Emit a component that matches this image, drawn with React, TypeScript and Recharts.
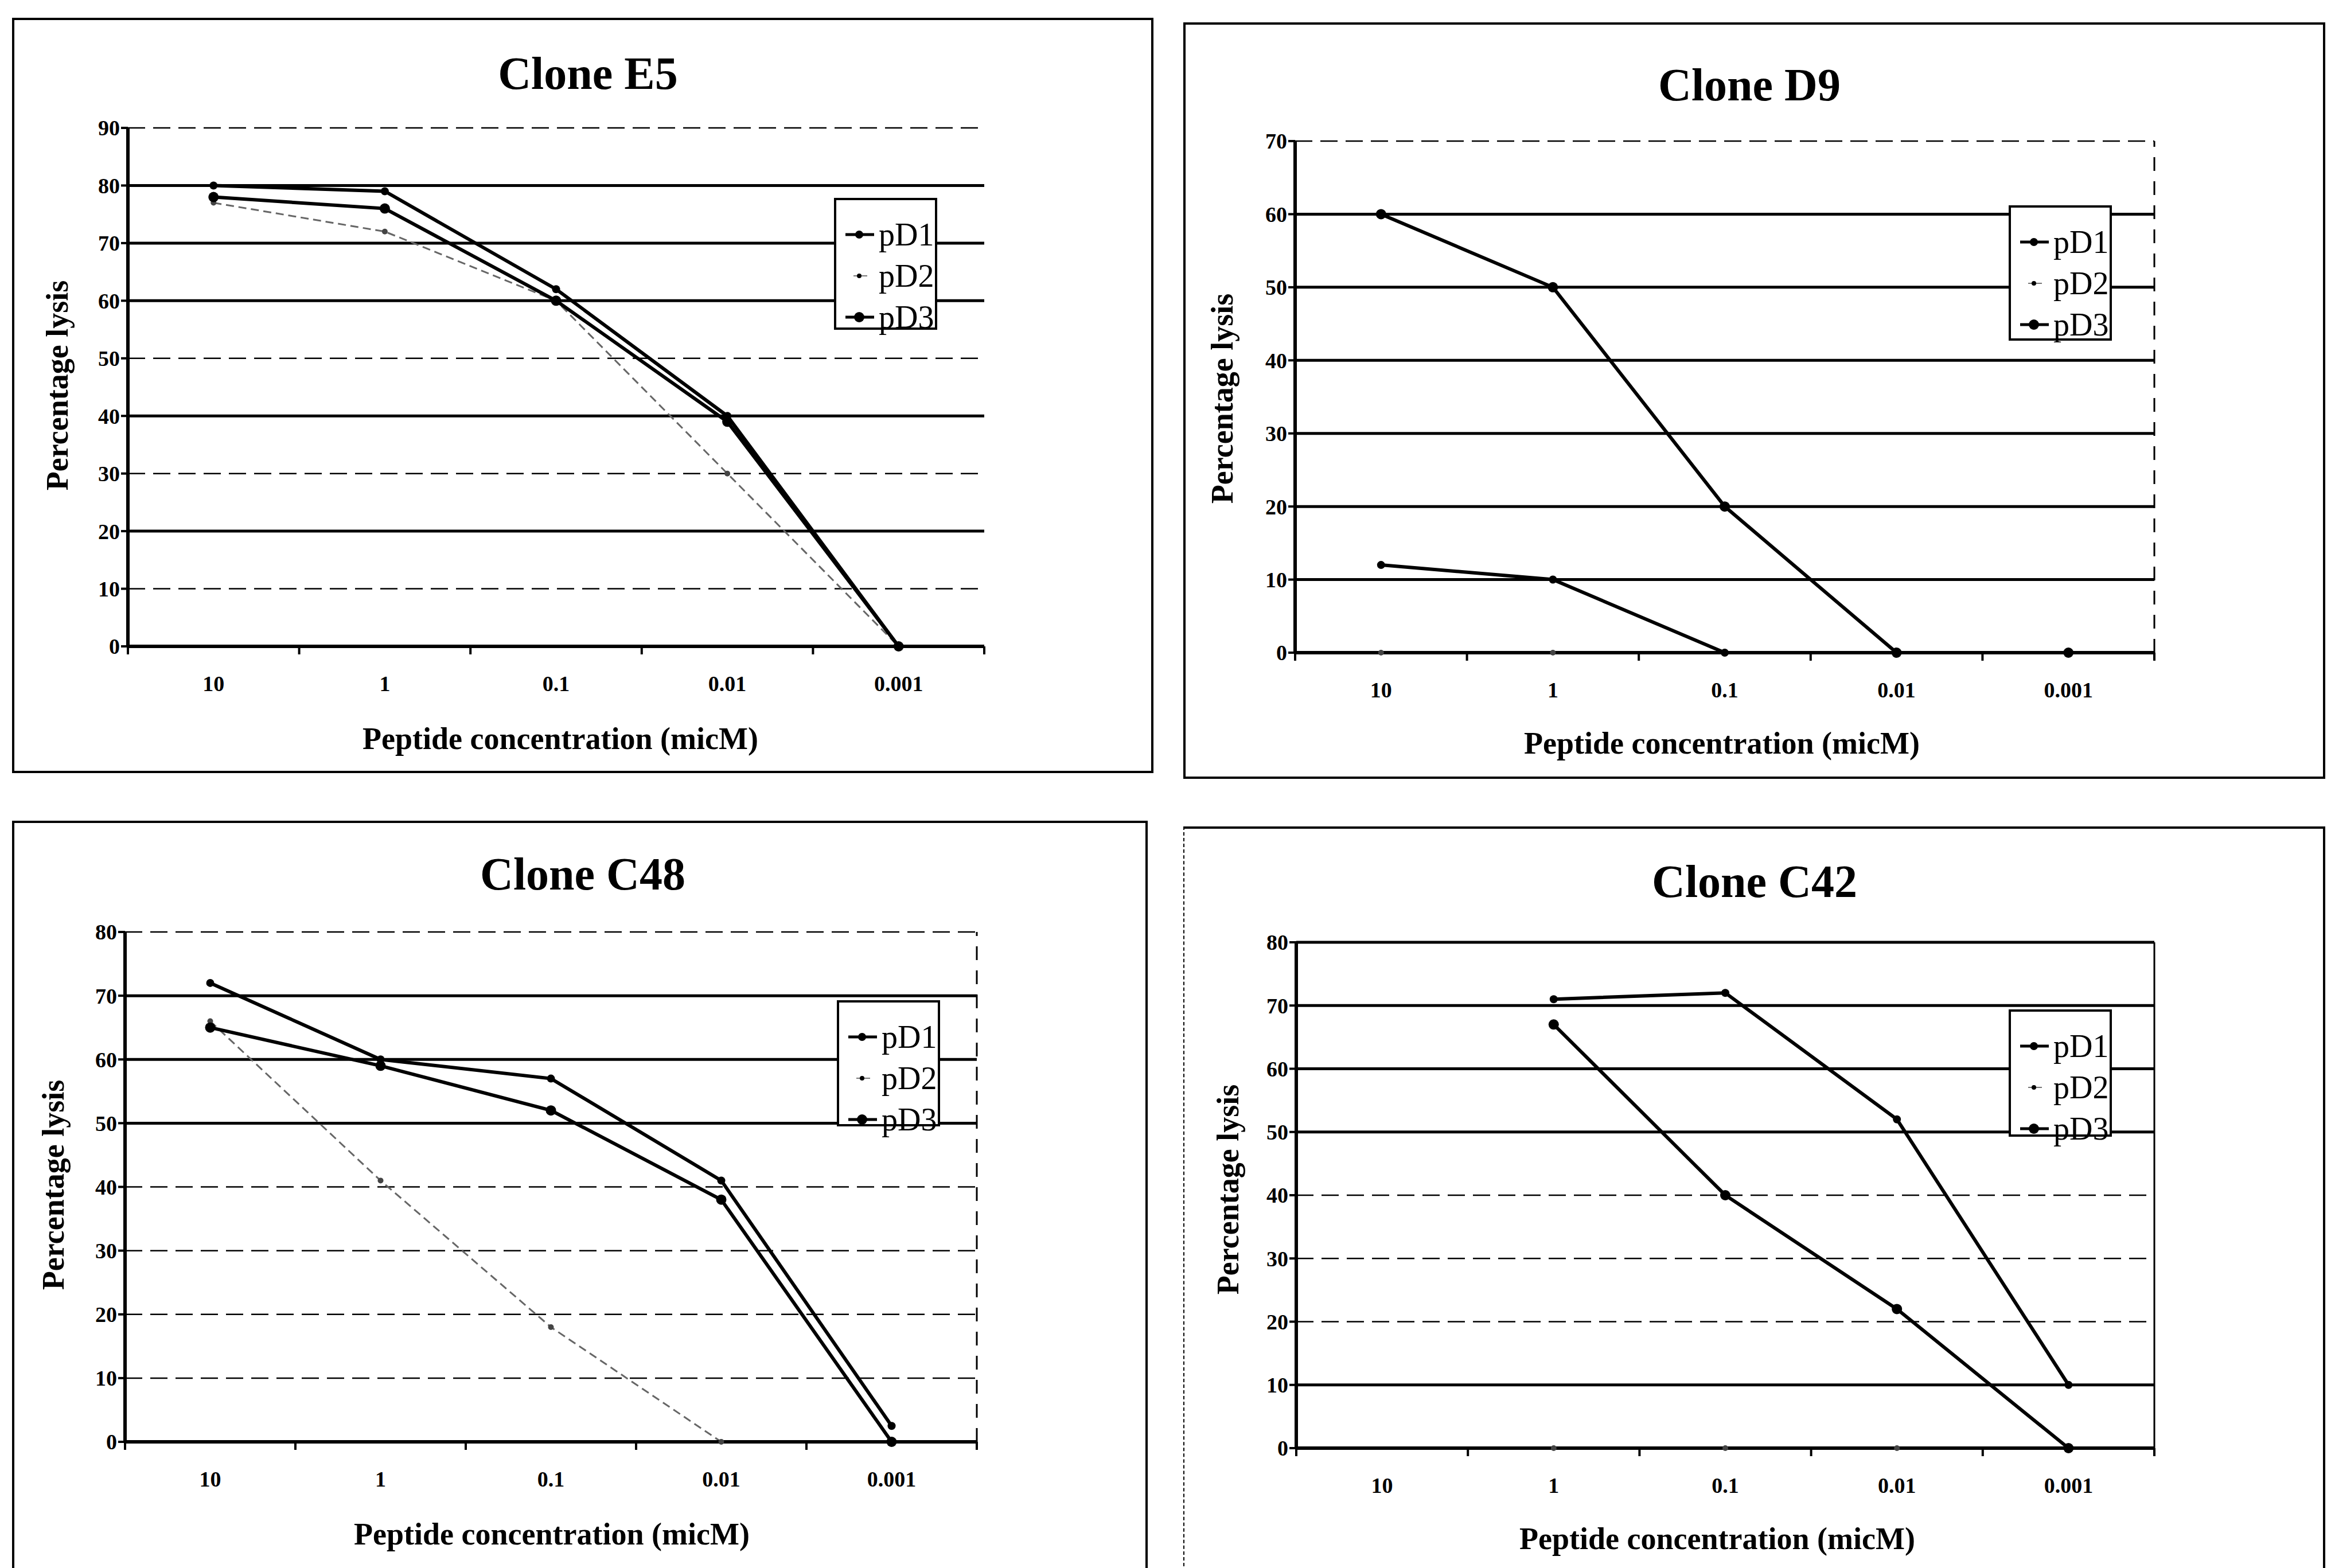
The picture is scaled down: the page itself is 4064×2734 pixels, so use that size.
import React from 'react';
import { LineChart, Line, XAxis, YAxis, ReferenceLine, Legend } from 'recharts';

// x categories (peptide concentration, micM)
const categories = ['10', '1', '0.1', '0.01', '0.001'];
const seriesNames = ['pD1', 'pD2', 'pD3'];

// Clone E5
const e5PD1 = [80, 79, 62, 40, 0];
const e5PD2 = [77, 72, 60, 30, 0];
const e5PD3 = [78, 76, 60, 39, 0];
// Clone D9
const d9PD1 = [12, 10, 0, null, null];
const d9PD2 = [0, 0, 0, 0, 0];
const d9PD3 = [60, 50, 20, 0, 0];
// Clone C48
const c48PD1 = [72, 60, 57, 41, 2.5];
const c48PD2 = [66, 41, 18, 0, null];
const c48PD3 = [65, 59, 52, 38, 0];
// Clone C42
const c42PD1 = [null, 71, 72, 52, 10];
const c42PD2 = [null, 0, 0, 0, 0];
const c42PD3 = [null, 67, 40, 22, 0];

const FONT = '"Liberation Serif", "Times New Roman", serif';
const Y_W = 70;
const X_H = 70;

type Box = { l: number; t: number; w: number; h: number };
type Pt = { x: number; y: number };

interface PanelProps {
  title: string;
  yMax: number;
  pd1: (number | null)[];
  pd2: (number | null)[];
  pd3: (number | null)[];
  box: Box;
  plot: { l: number; t: number; r: number; b: number };
  titlePos: Pt;
  xTitlePos: Pt;
  yTitlePos: Pt;
  legend: Box;
  faint: number[];
  rightEdge?: 'solid' | 'dashed' | 'none';
  leftBorderDashed?: boolean;
}

const LegendBox = () => (
  <div
    style={{
      width: '100%',
      height: '100%',
      boxSizing: 'border-box',
      border: '4px solid #000',
      background: '#fff',
      padding: '24px 0 0 12px',
      fontFamily: FONT,
      fontSize: 56,
      lineHeight: '72px',
      color: '#000',
    }}
  >
    {seriesNames.map((name, i) => (
      <div key={name} style={{ display: 'flex', alignItems: 'center' }}>
        <svg width={56} height={30} style={{ marginRight: 6 }}>
          {i !== 1 && <line x1={4} y1={15} x2={54} y2={15} stroke="#000" strokeWidth={5} />}
          {i === 1 && <line x1={18} y1={15} x2={42} y2={15} stroke="#777" strokeWidth={2} />}
          <circle cx={28} cy={15} r={i === 2 ? 9 : i === 0 ? 7 : 4} fill="#000" />
        </svg>
        <span>{name}</span>
      </div>
    ))}
  </div>
);

const Panel = (p: PanelProps) => {
  const data = categories.map((c, i) => ({
    pos: i + 0.5,
    cat: c,
    pD1: p.pd1[i],
    pD2: p.pd2[i],
    pD3: p.pd3[i],
  }));
  const band = (p.plot.r - p.plot.l) / categories.length;
  const yTicks = Array.from({ length: p.yMax / 10 + 1 }, (_, i) => i * 10);
  const margin = {
    left: p.plot.l - p.box.l - Y_W,
    top: p.plot.t - p.box.t,
    right: p.box.l + p.box.w - p.plot.r,
    bottom: p.box.t + p.box.h - p.plot.b - X_H,
  };

  const XTick = (props: any) => {
    const { x, y, payload } = props;
    if (payload.value >= categories.length) return null;
    return (
      <text
        x={x + band / 2}
        y={y + 62}
        textAnchor="middle"
        fontFamily={FONT}
        fontWeight="bold"
        fontSize={38}
        fill="#000"
      >
        {categories[payload.value]}
      </text>
    );
  };

  return (
    <div style={{ position: 'absolute', left: p.box.l, top: p.box.t, width: p.box.w, height: p.box.h }}>
      <div
        style={{
          position: 'absolute',
          inset: 0,
          border: '4px solid #000',
          borderLeftStyle: p.leftBorderDashed ? 'dashed' : 'solid',
          borderLeftWidth: p.leftBorderDashed ? 2 : 4,
        }}
      />
      <div
        style={{
          position: 'absolute',
          left: p.titlePos.x - p.box.l - 400,
          top: p.titlePos.y - p.box.t - 50,
          width: 800,
          textAlign: 'center',
          fontFamily: FONT,
          fontWeight: 'bold',
          fontSize: 80,
          lineHeight: '100px',
        }}
      >
        {p.title}
      </div>
      <div
        style={{
          position: 'absolute',
          left: p.xTitlePos.x - p.box.l - 500,
          top: p.xTitlePos.y - p.box.t - 35,
          width: 1000,
          textAlign: 'center',
          fontFamily: FONT,
          fontWeight: 'bold',
          fontSize: 54,
          lineHeight: '70px',
        }}
      >
        Peptide concentration (micM)
      </div>
      <div
        style={{
          position: 'absolute',
          left: p.yTitlePos.x - p.box.l - 300,
          top: p.yTitlePos.y - p.box.t - 35,
          width: 600,
          textAlign: 'center',
          fontFamily: FONT,
          fontWeight: 'bold',
          fontSize: 54,
          lineHeight: '70px',
          transform: 'rotate(-90deg)',
        }}
      >
        Percentage lysis
      </div>
      <div style={{ position: 'absolute', left: 0, top: 0 }}>
        <LineChart width={p.box.w} height={p.box.h} data={data} margin={margin}>
          {yTicks.map((v) => (
            <ReferenceLine
              key={v}
              y={v}
              stroke="#000"
              strokeWidth={p.faint.includes(v) ? 2.5 : 5}
              strokeDasharray={p.faint.includes(v) ? '30 14' : undefined}
            />
          ))}
          {p.rightEdge !== 'none' && (
            <ReferenceLine
              x={categories.length}
              stroke="#000"
              strokeWidth={3}
              strokeDasharray={p.rightEdge === 'dashed' ? '24 18' : undefined}
            />
          )}
          <XAxis
            dataKey="pos"
            type="number"
            domain={[0, categories.length]}
            ticks={categories.map((_, i) => i).concat(categories.length)}
            interval={0}
            height={X_H}
            tickSize={14}
            tickLine={{ stroke: '#000', strokeWidth: 4 }}
            axisLine={{ stroke: '#000', strokeWidth: 6 }}
            tick={<XTick />}
          />
          <YAxis
            type="number"
            domain={[0, p.yMax]}
            ticks={yTicks}
            interval={0}
            width={Y_W}
            tickSize={12}
            tickLine={{ stroke: '#000', strokeWidth: 4 }}
            axisLine={{ stroke: '#000', strokeWidth: 6 }}
            tick={{ fontFamily: FONT, fontWeight: 'bold', fontSize: 38, fill: '#000' }}
          />
          <Line
            dataKey="pD2"
            stroke="#666"
            strokeWidth={3}
            strokeDasharray="14 8"
            dot={{ r: 5, fill: '#444', stroke: 'none' }}
            isAnimationActive={false}
          />
          <Line
            dataKey="pD3"
            stroke="#000"
            strokeWidth={6}
            dot={{ r: 9, fill: '#000', stroke: 'none' }}
            isAnimationActive={false}
          />
          <Line
            dataKey="pD1"
            stroke="#000"
            strokeWidth={6}
            dot={{ r: 7, fill: '#000', stroke: 'none' }}
            isAnimationActive={false}
          />
          <Legend
            layout="vertical"
            align="center"
            verticalAlign="middle"
            content={() => <LegendBox />}
            wrapperStyle={{
              left: p.legend.l - p.box.l,
              top: p.legend.t - p.box.t,
              width: p.legend.w,
              height: p.legend.h,
              bottom: 'auto',
            }}
          />
        </LineChart>
      </div>
    </div>
  );
};

export default function App() {
  return (
    <div style={{ position: 'absolute', left: 0, top: 0, width: 4064, height: 2734, background: '#fff', overflow: 'hidden' }}>
      <Panel
        title="Clone E5"
        yMax={90}
        pd1={e5PD1}
        pd2={e5PD2}
        pd3={e5PD3}
        box={{ l: 21, t: 31, w: 1990, h: 1317 }}
        plot={{ l: 223, t: 223, r: 1716, b: 1127 }}
        titlePos={{ x: 1025, y: 128 }}
        xTitlePos={{ x: 977, y: 1288 }}
        yTitlePos={{ x: 100, y: 672 }}
        legend={{ l: 1454, t: 345, w: 180, h: 230 }}
        faint={[90, 50, 30, 10]}
        rightEdge="none"
      />
      <Panel
        title="Clone D9"
        yMax={70}
        pd1={d9PD1}
        pd2={d9PD2}
        pd3={d9PD3}
        box={{ l: 2063, t: 39, w: 1991, h: 1319 }}
        plot={{ l: 2258, t: 246, r: 3756, b: 1138 }}
        titlePos={{ x: 3050, y: 148 }}
        xTitlePos={{ x: 3002, y: 1296 }}
        yTitlePos={{ x: 2131, y: 695 }}
        legend={{ l: 3502, t: 358, w: 180, h: 236 }}
        faint={[70]}
        rightEdge="dashed"
      />
      <Panel
        title="Clone C48"
        yMax={80}
        pd1={c48PD1}
        pd2={c48PD2}
        pd3={c48PD3}
        box={{ l: 21, t: 1431, w: 1980, h: 1320 }}
        plot={{ l: 218, t: 1625, r: 1703, b: 2514 }}
        titlePos={{ x: 1016, y: 1524 }}
        xTitlePos={{ x: 962, y: 2675 }}
        yTitlePos={{ x: 93, y: 2066 }}
        legend={{ l: 1459, t: 1744, w: 180, h: 220 }}
        faint={[80, 40, 30, 20, 10]}
        rightEdge="dashed"
      />
      <Panel
        title="Clone C42"
        yMax={80}
        pd1={c42PD1}
        pd2={c42PD2}
        pd3={c42PD3}
        box={{ l: 2063, t: 1441, w: 1991, h: 1310 }}
        plot={{ l: 2260, t: 1643, r: 3756, b: 2525 }}
        titlePos={{ x: 3059, y: 1537 }}
        xTitlePos={{ x: 2994, y: 2683 }}
        yTitlePos={{ x: 2141, y: 2074 }}
        legend={{ l: 3502, t: 1760, w: 180, h: 222 }}
        faint={[40, 30, 20]}
        rightEdge="solid"
        leftBorderDashed
      />
    </div>
  );
}
